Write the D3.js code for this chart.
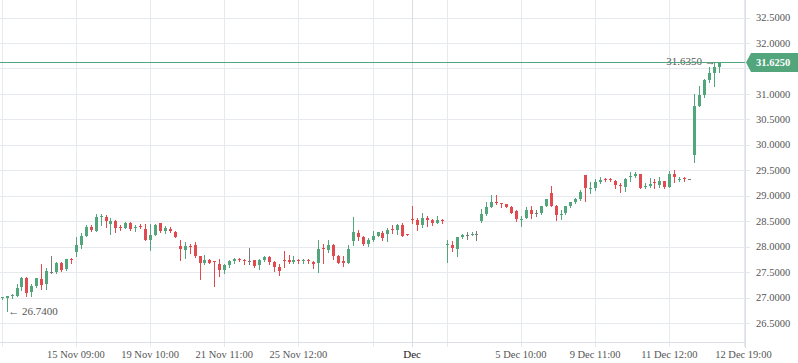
<!DOCTYPE html>
<html><head><meta charset="utf-8">
<script src="https://cdn.jsdelivr.net/npm/d3@7"></script>
<style>
html,body{margin:0;padding:0;background:#fff;}
svg{display:block;}
</style></head>
<body>
<svg id="chart" width="798" height="363"></svg>
<script>
// ---- data ----
const openV = [26.99,26.99,27.03,27.04,27.20,27.38,27.10,27.22,27.36,27.26,27.51,27.51,27.68,27.57,27.75,27.90,28.04,28.20,28.39,28.31,
28.58,28.59,28.44,28.51,28.39,28.37,28.47,28.37,28.41,28.34,28.13,28.23,28.46,28.31,28.35,28.29,28.01,27.93,28.02,28.03,
27.81,27.68,27.73,27.71,27.66,27.55,27.63,27.71,27.75,27.73,27.71,27.73,27.63,27.73,27.79,27.70,27.60,27.73,27.73,27.69,
27.74,27.72,27.73,27.70,27.68,27.98,27.93,28.04,27.81,27.71,27.67,28.11,28.27,28.19,28.05,28.13,28.21,28.27,28.25,28.35,
28.32,28.42,28.25,28.54,28.53,28.42,28.56,28.52,28.47,28.53,28.04,28.03,27.95,28.19,28.23,28.24,28.24,28.50,28.64,28.78,
28.87,28.86,28.83,28.78,28.70,28.53,28.57,28.72,28.67,28.66,28.80,29.06,28.80,28.63,28.66,28.80,28.87,28.93,29.40,29.14,
29.15,29.26,29.32,29.32,29.29,29.21,29.17,29.37,29.38,29.43,29.17,29.20,29.26,29.21,29.29,29.18,29.43,29.32,29.34,29.33,
29.80,30.76,30.97,31.27,31.42,31.53];
const highV = [27.02,27.04,27.07,27.26,27.40,27.40,27.26,27.39,27.65,27.59,27.81,27.69,27.69,27.76,27.77,28.19,28.26,28.43,28.43,28.64,
28.64,28.63,28.56,28.53,28.43,28.48,28.49,28.43,28.45,28.44,28.44,28.44,28.47,28.41,28.39,28.30,28.13,28.10,28.06,28.10,
27.82,27.83,27.75,27.72,27.76,27.65,27.74,27.78,27.77,27.76,27.98,27.74,27.76,27.82,27.82,27.72,27.66,27.92,27.83,27.81,
27.75,27.76,27.75,27.72,28.14,28.06,28.14,28.06,27.83,27.81,28.03,28.59,28.32,28.20,28.16,28.30,28.29,28.30,28.36,28.42,
28.45,28.46,28.25,28.79,28.56,28.67,28.60,28.54,28.60,28.55,28.13,28.11,28.19,28.25,28.29,28.28,28.31,28.73,28.87,29.02,
29.02,28.86,28.83,28.79,28.72,28.60,28.77,28.79,28.71,28.80,28.94,29.20,28.82,28.72,28.80,28.87,28.95,29.12,29.40,29.27,
29.32,29.36,29.34,29.34,29.31,29.25,29.35,29.46,29.46,29.43,29.25,29.34,29.33,29.36,29.29,29.48,29.50,29.37,29.37,29.33,
30.99,31.16,31.30,31.53,31.635,31.63];
const lowV = [26.97,26.74,27.00,27.03,27.14,27.04,27.04,27.20,27.17,27.16,27.49,27.49,27.52,27.55,27.67,27.81,27.97,28.20,28.30,28.31,
28.42,28.39,28.24,28.29,28.33,28.36,28.33,28.31,28.36,28.13,27.93,28.23,28.28,28.26,28.28,28.18,27.73,27.78,27.87,27.80,
27.36,27.66,27.67,27.22,27.42,27.48,27.60,27.68,27.72,27.66,27.65,27.60,27.56,27.71,27.65,27.53,27.45,27.60,27.67,27.67,
27.67,27.68,27.67,27.59,27.50,27.67,27.90,27.75,27.67,27.62,27.67,28.03,28.13,28.03,28.02,28.12,28.20,28.13,28.11,28.26,
28.24,28.20,28.23,28.47,28.32,28.38,28.41,28.42,28.46,28.46,27.70,27.92,27.81,28.17,28.15,28.23,28.14,28.48,28.62,28.77,
28.83,28.78,28.77,28.66,28.50,28.40,28.56,28.57,28.60,28.65,28.80,28.80,28.52,28.54,28.65,28.77,28.86,28.92,28.90,29.06,
29.12,29.25,29.28,29.28,29.16,29.08,29.10,29.29,29.37,29.15,29.15,29.18,29.16,29.18,29.16,29.18,29.26,29.28,29.29,29.33,
29.67,30.76,30.93,31.24,31.16,31.43];
const closeV = [27.01,27.03,27.05,27.19,27.38,27.09,27.22,27.38,27.24,27.52,27.51,27.68,27.55,27.75,27.74,28.03,28.20,28.39,28.32,28.58,
28.60,28.51,28.51,28.37,28.38,28.47,28.35,28.38,28.40,28.13,28.23,28.42,28.31,28.36,28.30,28.19,27.95,28.01,28.01,27.81,
27.67,27.73,27.68,27.70,27.55,27.63,27.71,27.75,27.74,27.72,27.71,27.62,27.73,27.79,27.70,27.60,27.53,27.72,27.69,27.73,
27.73,27.73,27.72,27.66,27.95,27.95,28.03,27.81,27.68,27.67,27.96,28.29,28.19,28.05,28.13,28.21,28.28,28.16,28.32,28.34,
28.42,28.21,28.23,28.53,28.42,28.57,28.53,28.47,28.52,28.52,28.05,27.97,28.19,28.23,28.23,28.25,28.24,28.64,28.78,28.87,
28.85,28.83,28.78,28.67,28.55,28.54,28.72,28.64,28.67,28.80,28.94,28.80,28.62,28.64,28.80,28.87,28.94,29.08,29.16,29.15,
29.27,29.31,29.31,29.31,29.21,29.20,29.33,29.38,29.43,29.16,29.20,29.24,29.25,29.29,29.18,29.43,29.36,29.33,29.33,29.33,
30.76,30.97,31.27,31.42,31.52,31.625];

const priceTicks = [26.5,27,27.5,28,28.5,29,29.5,30,30.5,31,32,32.5];
const gridIndex = [0,15,30,45,60,75,90,105,120,135,150];
const tickIndex = [15,30,45,60,105,120,135,150];
const tickLabels = ["15 Nov 09:00","19 Nov 10:00","21 Nov 11:00","25 Nov 12:00","5 Dec 10:00","9 Dec 11:00","11 Dec 12:00","12 Dec 19:00"];
const monthIndex = 83, monthLabel = "Dec";
const lastPrice = 31.625;
const highLabel = "31.6350", lowLabel = "26.7400";

// ---- drawing ----
const svg = d3.select("#chart");
const W = 798, H = 363, plotR = 745, plotB = 342;
const x = d3.scaleLinear().domain([0,150]).range([1.7, 743.5]);
const y = d3.scaleLinear().domain([26.5,32]).range([323,43]);
const GREEN = "#53a57c", RED = "#e04b4f", GRAY = "#7a7a7a";
const FONT = "'Liberation Serif', 'Times New Roman', serif";
const snap = v => Math.round(v) + 0.5;

const candles = openV.map((o,i)=>({i, o, h:highV[i], l:lowV[i], c:closeV[i]}));

// horizontal grid
const gH = svg.append("g");
gH.selectAll("line").data([26.5,27,27.5,28,28.5,29,29.5,30,30.5,31,31.5,32,32.5]).join("line")
  .attr("x1",0).attr("x2",plotR+5)
  .attr("y1",d=>snap(y(d))).attr("y2",d=>snap(y(d)))
  .attr("stroke","#e6e9ed").attr("stroke-width",1);

// vertical grid
const gV = svg.append("g");
gV.selectAll("line").data(gridIndex).join("line")
  .attr("x1",d=>snap(x(d))).attr("x2",d=>snap(x(d)))
  .attr("y1",0).attr("y2",plotB+5)
  .attr("stroke","#e6e9ed").attr("stroke-width",1);
gV.append("line")
  .attr("x1",snap(x(monthIndex))).attr("x2",snap(x(monthIndex)))
  .attr("y1",0).attr("y2",plotB+5)
  .attr("stroke","#d9dce0").attr("stroke-width",1);

// axes lines
svg.append("line").attr("x1",0).attr("x2",plotR).attr("y1",plotB+0.5).attr("y2",plotB+0.5)
  .attr("stroke","#dcdfe3");
svg.append("line").attr("x1",plotR+0.5).attr("x2",plotR+0.5).attr("y1",0).attr("y2",plotB+6)
  .attr("stroke","#dcdfe3");

// x labels
const gx = svg.append("g").attr("font-family",FONT).attr("font-size",10.5).attr("fill","#555");
gx.selectAll("text").data(tickIndex).join("text")
  .attr("x",d=>x(d)).attr("y",357.5).attr("text-anchor","middle")
  .text((d,i)=>tickLabels[i]);
svg.append("text").attr("x",x(monthIndex)).attr("y",357.5).attr("text-anchor","middle")
  .attr("font-family",FONT).attr("font-size",11)
  .attr("fill","#222").text(monthLabel);

// y labels
const gy = svg.append("g").attr("font-family",FONT).attr("font-size",10.5).attr("fill","#555");
gy.selectAll("text").data(priceTicks).join("text")
  .attr("x",756).attr("y",d=>y(d)).attr("dy","0.35em")
  .text(d=>d.toFixed(4));

// candles
const gc = svg.append("g");
const col = d => d.c > d.o ? GREEN : (d.c < d.o ? RED : GRAY);
gc.selectAll("line").data(candles).join("line")
  .attr("x1",d=>snap(x(d.i))).attr("x2",d=>snap(x(d.i)))
  .attr("y1",d=>Math.round(y(d.h))).attr("y2",d=>Math.round(y(d.l))+1)
  .attr("stroke",col).attr("stroke-width",1);
gc.selectAll("rect").data(candles).join("rect")
  .attr("x",d=>Math.round(x(d.i))-1).attr("width",3)
  .attr("y",d=>Math.round(y(Math.max(d.o,d.c))))
  .attr("height",d=>Math.max(1, Math.round(y(Math.min(d.o,d.c))) - Math.round(y(Math.max(d.o,d.c)))))
  .attr("fill",col);

// low marker
const lowIdx = lowV.indexOf(d3.min(lowV));
svg.append("text").attr("x",x(lowIdx)+1.5).attr("y",y(d3.min(lowV))).attr("dy","0.35em")
  .attr("font-family",FONT).attr("font-size",11).attr("fill","#555")
  .text("\u2190 " + lowLabel);

// high marker
const highIdx = highV.indexOf(d3.max(highV));
svg.append("text").attr("x",x(highIdx)+2).attr("y",y(d3.max(highV))).attr("dy","0.35em")
  .attr("text-anchor","end")
  .attr("font-family",FONT).attr("font-size",11).attr("fill","#555")
  .text(highLabel + " \u2192");

// last price line
const ly = snap(y(lastPrice));
svg.append("line").attr("x1",0).attr("x2",plotR).attr("y1",ly).attr("y2",ly)
  .attr("stroke",GREEN).attr("stroke-width",1);
svg.append("path")
  .attr("d",`M${plotR+1},${ly} L${plotR+6},${ly-9.5} L${W},${ly-9.5} L${W},${ly+9.5} L${plotR+6},${ly+9.5} Z`)
  .attr("fill",GREEN);
svg.append("text").attr("x",756).attr("y",ly).attr("dy","0.35em")
  .attr("font-family",FONT).attr("font-size",10.5).attr("font-weight","bold").attr("fill","#fff")
  .text(lastPrice.toFixed(4));
</script>
</body></html>
